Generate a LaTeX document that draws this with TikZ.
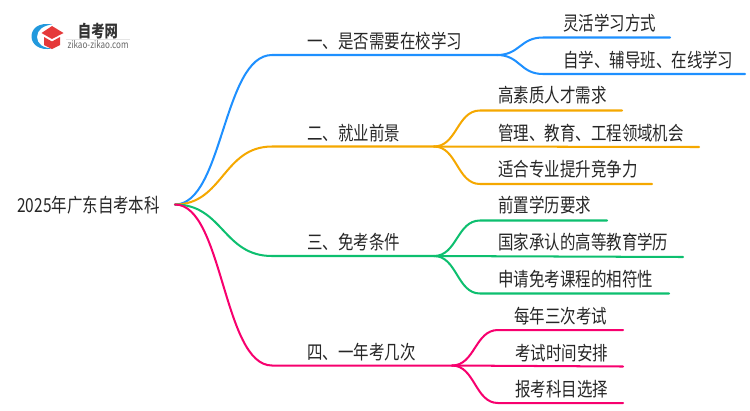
\documentclass[tikz,border=0pt]{standalone}
\usepackage{fontspec}
\setmainfont{Noto Sans CJK SC}
\usetikzlibrary{positioning}
\definecolor{lineBlue}{HTML}{1E90FF}
\definecolor{lineOrange}{HTML}{F5A800}
\definecolor{lineGreen}{HTML}{0DBF6F}
\definecolor{linePink}{HTML}{F7006E}
\definecolor{logoRed}{HTML}{E5393A}
\definecolor{logoBlue}{HTML}{2299DD}
\tikzstyle{label}=[anchor=west,inner sep=0pt,text=black!85,yscale=1.25,transform shape,font=\fontsize{8.8pt}{10pt}\selectfont]
\tikzstyle{logotext}=[inner sep=0pt,yscale=1.25,transform shape]
\tikzstyle{branch}=[line width=1.15pt,line cap=round]

\begin{document}
\begin{tikzpicture}[x=0.02cm,y=-0.02cm]
    \useasboundingbox (0,0) rectangle (750,410);

    % logo
    \fill[logoBlue] (52,24.5) .. controls (38,22) and (31.5,29) .. (31.5,36.5) .. controls (31.5,44) and (39,51) .. (52,48.5) .. controls (43,48) and (37,44) .. (37,37) .. controls (37,30) and (43,25.5) .. (52,24.5) -- cycle;
    \fill[logoRed] (41.5,33) -- (52,26) -- (63.5,33) -- (52,39) -- cycle;
    \fill[logoRed] (44,37) -- (52,41.5) -- (60,37) -- (60,45) -- (52,49) -- (44,45) -- cycle;
    \draw[black!10,line width=0.4pt] (66,39) -- (130,39);
    \node (logoName)[logotext,text=black!80,font=\fontsize{7.6pt}{10pt}\selectfont\bfseries] at (98,31) {自考网};
    \node (logoSite)[logotext,text=black!60,font=\fontsize{4.6pt}{6pt}\selectfont] at (98,45) {zikao-zikao.com};

    \node (root)[label] at (17,205) {2025年广东自考本科};
    \coordinate (hub) at (175,204.5);

    % first branch
    \node (b1)[label] at (307,41) {一、是否需要在校学习};
    \node (b1a)[label] at (563,23) {灵活学习方式};
    \node (b1b)[label] at (563,60) {自学、辅导班、在线学习};
    \coordinate (b1s) at (272,55);
    \coordinate (b1f) at (497,55);
    \coordinate (b1as) at (543,37.5);
    \coordinate (b1ae) at (670,37.5);
    \coordinate (b1bs) at (543,74);
    \coordinate (b1be) at (745,74);
    \draw[branch,lineBlue] (hub) .. controls (223,204.5) and (223,55) .. (b1s) -- (b1f);
    \draw[branch,lineBlue] (b1f) .. controls (520,55) and (520,37.5) .. (b1as) -- (b1ae);
    \draw[branch,lineBlue] (b1f) .. controls (520,55) and (520,74) .. (b1bs) -- (b1be);

    % second branch
    \node (b2)[label] at (307,133) {二、就业前景};
    \node (b2a)[label] at (498,95.5) {高素质人才需求};
    \node (b2b)[label] at (498,133) {管理、教育、工程领域机会};
    \node (b2c)[label] at (498,169.5) {适合专业提升竞争力};
    \coordinate (b2s) at (272,146.5);
    \coordinate (b2f) at (434,146.5);
    \coordinate (b2as) at (480,110.5);
    \coordinate (b2ae) at (622,110.5);
    \coordinate (b2be) at (699,147);
    \coordinate (b2cs) at (480,184);
    \coordinate (b2ce) at (652,184);
    \draw[branch,lineOrange] (hub) .. controls (223,204.5) and (223,146.5) .. (b2s) -- (b2f);
    \draw[branch,lineOrange] (b2f) .. controls (457,146.5) and (457,110.5) .. (b2as) -- (b2ae);
    \draw[branch,lineOrange] (b2f) -- (b2be);
    \draw[branch,lineOrange] (b2f) .. controls (457,146.5) and (457,184) .. (b2cs) -- (b2ce);

    % third branch
    \node (b3)[label] at (307,242) {三、免考条件};
    \node (b3a)[label] at (498,205.5) {前置学历要求};
    \node (b3b)[label] at (498,242.5) {国家承认的高等教育学历};
    \node (b3c)[label] at (498,279.5) {申请免考课程的相符性};
    \coordinate (b3s) at (272,256);
    \coordinate (b3f) at (434,256);
    \coordinate (b3as) at (480,220.5);
    \coordinate (b3ae) at (607,220.5);
    \coordinate (b3be) at (683,257);
    \coordinate (b3cs) at (480,293.5);
    \coordinate (b3ce) at (669,293.5);
    \draw[branch,lineGreen] (hub) .. controls (223,204.5) and (223,256) .. (b3s) -- (b3f);
    \draw[branch,lineGreen] (b3f) .. controls (457,256) and (457,220.5) .. (b3as) -- (b3ae);
    \draw[branch,lineGreen] (b3f) -- (b3be);
    \draw[branch,lineGreen] (b3f) .. controls (457,256) and (457,293.5) .. (b3cs) -- (b3ce);

    % fourth branch
    \node (b4)[label] at (307,352) {四、一年考几次};
    \node (b4a)[label] at (514,316) {每年三次考试};
    \node (b4b)[label] at (515,353) {考试时间安排};
    \node (b4c)[label] at (515,389) {报考科目选择};
    \coordinate (b4s) at (272,365.5);
    \coordinate (b4f) at (452,365.5);
    \coordinate (b4as) at (498,330);
    \coordinate (b4ae) at (623,330);
    \coordinate (b4be) at (623,366.5);
    \coordinate (b4cs) at (498,403);
    \coordinate (b4ce) at (623,403);
    \draw[branch,linePink] (hub) .. controls (223,204.5) and (223,365.5) .. (b4s) -- (b4f);
    \draw[branch,linePink] (b4f) .. controls (475,365.5) and (475,330) .. (b4as) -- (b4ae);
    \draw[branch,linePink] (b4f) -- (b4be);
    \draw[branch,linePink] (b4f) .. controls (475,365.5) and (475,403) .. (b4cs) -- (b4ce);

\end{tikzpicture}
\end{document}
